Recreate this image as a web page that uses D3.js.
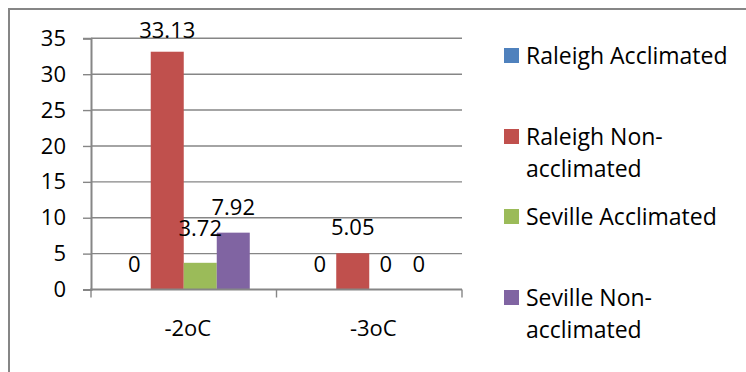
<!DOCTYPE html>
<html><head><meta charset="utf-8">
<script src="https://cdn.jsdelivr.net/npm/d3@7"></script>
<style>body{margin:0;background:#fff;}svg{display:block;}</style>
</head><body>
<svg id="chart" width="746" height="372"></svg>
<script>
// ---- data ----
const categories = ["-2oC", "-3oC"];
const seriesNames = ["Raleigh Acclimated", "Raleigh Non-acclimated", "Seville Acclimated", "Seville Non-acclimated"];
const raleighAcclimated = [0, 0];
const raleighNonAcclimated = [33.13, 5.05];
const sevilleAcclimated = [3.72, 0];
const sevilleNonAcclimated = [7.92, 0];
const yTicks = [0, 5, 10, 15, 20, 25, 30, 35];
const legendLines = [["Raleigh Acclimated"], ["Raleigh Non-", "acclimated"], ["Seville Acclimated"], ["Seville Non-", "acclimated"]];

// ---- styling / layout ----
const colors = ["#4F81BD", "#C0504D", "#9BBB59", "#8064A2"];
const FONT = "'Open Sans', 'Liberation Sans', sans-serif";
const FS = 22;
const FS_LEG = 23;
const grid = "#868686";
const seriesValues = [raleighAcclimated, raleighNonAcclimated, sevilleAcclimated, sevilleNonAcclimated];

const svg = d3.select("#chart");
svg.append("rect").attr("width", 746).attr("height", 372).attr("fill", "#fff");

// outer border (left + top visible)
svg.append("path").attr("d", "M9,372 V9 H746").attr("fill", "none").attr("stroke", grid).attr("stroke-width", 2);

const plot = {left: 91, right: 462, top: 38.3, bottom: 289.5};
const y = d3.scaleLinear().domain([0, 35]).range([plot.bottom, plot.top]);
const x0 = d3.scaleBand().domain(categories).range([plot.left, plot.right]).paddingInner(0).paddingOuter(0);
const x1 = d3.scaleBand().domain(seriesNames).range([0, x0.bandwidth()]).paddingInner(0).paddingOuter(0.81);

// gridlines
svg.append("g").selectAll("line").data(yTicks.filter(d => d > 0)).join("line")
  .attr("x1", plot.left).attr("x2", plot.right)
  .attr("y1", d => y(d)).attr("y2", d => y(d))
  .attr("stroke", grid).attr("stroke-width", 1.4);

// y axis
const yAxis = d3.axisLeft(y).tickValues(yTicks).tickSize(8).tickPadding(17).tickFormat(d3.format("d"));
const gy = svg.append("g").attr("transform", `translate(${plot.left},0)`).call(yAxis);
gy.select(".domain").attr("stroke", grid).attr("stroke-width", 2);
gy.selectAll(".tick line").attr("stroke", grid).attr("stroke-width", 1.4);
gy.selectAll(".tick text").attr("font-family", FONT).attr("font-size", FS).attr("fill", "#000");

// bars
const groups = svg.append("g").selectAll("g").data(categories).join("g")
  .attr("transform", d => `translate(${x0(d)},0)`);
groups.selectAll("rect").data((c, ci) => seriesNames.map((s, si) => ({s, si, v: seriesValues[si][ci]})))
  .join("rect")
  .attr("x", d => x1(d.s)).attr("width", x1.bandwidth())
  .attr("y", d => y(d.v)).attr("height", d => y(0) - y(d.v))
  .attr("fill", d => colors[d.si]);

// x axis
const xAxisLine = svg.append("g");
xAxisLine.append("line").attr("x1", plot.left - 1).attr("x2", plot.right).attr("y1", y(0)).attr("y2", y(0))
  .attr("stroke", grid).attr("stroke-width", 2);
const xTickPos = [plot.left].concat(categories.map(c => x0(c) + x0.bandwidth()));
xAxisLine.selectAll("line.t").data(xTickPos).join("line").attr("class", "t")
  .attr("x1", d => d).attr("x2", d => d).attr("y1", y(0)).attr("y2", y(0) + 8)
  .attr("stroke", grid).attr("stroke-width", 1.4);
svg.append("g").selectAll("text").data(categories).join("text")
  .attr("x", d => x0(d) + x0.bandwidth() / 2 + 4).attr("y", 336)
  .attr("text-anchor", "middle").attr("font-family", FONT).attr("font-size", FS).attr("fill", "#000")
  .text(d => d);

// data labels
const nudge = {"-2oC|Seville Acclimated": -9};
groups.selectAll("text").data((c, ci) => seriesNames.map((s, si) => ({c, s, si, v: seriesValues[si][ci]})))
  .join("text")
  .attr("x", d => x1(d.s) + x1.bandwidth() / 2)
  .attr("y", d => Math.max(y(d.v) - 18, plot.top - 0.5) + (nudge[d.c + "|" + d.s] || 0))
  .attr("text-anchor", "middle").attr("font-family", FONT).attr("font-size", FS).attr("fill", "#000")
  .text(d => d3.format("")(d.v));

// legend
const legendTop = [48, 129, 209, 290];
const lg = svg.append("g").selectAll("g").data(seriesNames).join("g");
lg.append("rect").attr("x", 504).attr("y", (d, i) => legendTop[i]).attr("width", 15).attr("height", 15)
  .attr("fill", (d, i) => colors[i]);
lg.each(function(d, i) {
  const t = d3.select(this).append("text").attr("font-family", FONT).attr("font-size", FS_LEG).attr("fill", "#000");
  legendLines[i].forEach((ln, k) => {
    t.append("tspan").attr("x", 526).attr("y", legendTop[i] + 16 + k * 32).text(ln);
  });
});
</script>
</body></html>
